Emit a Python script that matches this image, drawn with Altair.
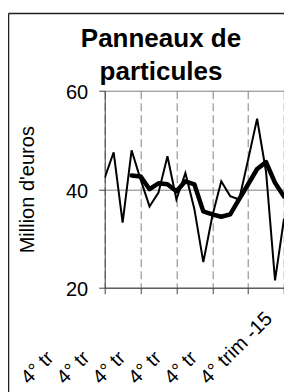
import altair as alt
import pandas as pd

# quarterly index (0 = 4° trim -10 ... 20 = 4° trim -15)
quarters = list(range(21))
raw_values = [42.3, 47.5, 33.2, 47.9, 42.0, 36.5, 39.3, 46.7, 37.9, 43.3, 36.0,
              25.2, 34.5, 41.6, 38.6, 37.9, 46.0, 54.3, 43.5, 21.5, 34.0]
ma_quarters = list(range(3, 21))
ma_values = [42.8, 42.6, 40.0, 41.2, 41.0, 39.6, 41.6, 41.0, 35.5, 34.9, 34.4,
             34.9, 38.0, 41.0, 44.1, 45.5, 41.3, 38.5]
tick_quarters = [0, 4, 8, 12, 16, 20]
tick_labels = ["4° tr", "4° tr", "4° tr", "4° tr", "4° tr", "4° trim -15"]
y_ticks = [20, 40, 60]
title_lines = ["Panneaux de", "particules"]
y_title = "Million d'euros"

FONT = "Liberation Sans"

raw_df = pd.DataFrame({"q": quarters, "v": raw_values})
ma_df = pd.DataFrame({"q": ma_quarters, "v": ma_values})

label_expr = "[" + ",".join("'" + t + "'" for t in tick_labels) + "][round(datum.value/4)]"

x_scale = alt.Scale(domain=[0, 20], nice=False, zero=False)
y_scale = alt.Scale(domain=[20, 60], nice=False, zero=False)

x_axis = alt.Axis(values=tick_quarters, tickCount=12, grid=True, gridDash=[8, 4],
                  gridColor="#808080", gridWidth=1, domainColor="#404040",
                  tickColor="#404040", tickSize=6,
                  labelAngle=315, labelAlign="left", labelBaseline="alphabetic",
                  labelPadding=91, labelOffset=-76.5, labelFontSize=20, labelFont=FONT,
                  labelColor="black", labelOverlap=False, labelFlush=False,
                  labelExpr=label_expr, title=None)
y_axis = alt.Axis(values=y_ticks, tickCount=5, grid=True, gridColor="#808080", gridWidth=1,
                  domainColor="#404040", tickColor="#404040", tickSize=6,
                  labelFontSize=20, labelFont=FONT, labelColor="black",
                  labelPadding=11, labelOffset=2, labelFlush=False,
                  title=y_title, titleFontSize=20, titleFont=FONT, titleFontWeight="normal",
                  titleColor="black", titleAngle=270, titleX=-71, titleY=98.5,
                  titleAlign="center", titleBaseline="alphabetic")

thin = alt.Chart(raw_df).mark_line(color="black", strokeWidth=2, clip=True).encode(
    x=alt.X("q:Q", scale=x_scale, axis=x_axis),
    y=alt.Y("v:Q", scale=y_scale, axis=y_axis),
)
thick = alt.Chart(ma_df).mark_line(color="black", strokeWidth=4.5, strokeJoin="round",
                                   strokeCap="round", clip=True).encode(
    x=alt.X("q:Q", scale=x_scale),
    y=alt.Y("v:Q", scale=y_scale),
)

frame_left = alt.Chart(pd.DataFrame({"a": [0]})).mark_rule(color="#202020", strokeWidth=1.5).encode(
    x=alt.value(-96.2), y=alt.value(-77.2), y2=alt.value(400))
frame_top = alt.Chart(pd.DataFrame({"a": [0]})).mark_rule(color="#202020", strokeWidth=1.5).encode(
    x=alt.value(-96.2), x2=alt.value(300), y=alt.value(-77.2))

title1 = alt.Chart(pd.DataFrame({"t": [title_lines[0]]})).mark_text(
    fontSize=26, fontWeight="bold", font=FONT, color="black", align="center",
    baseline="alphabetic").encode(text="t:N", x=alt.value(56.3), y=alt.value(-44))
title2 = alt.Chart(pd.DataFrame({"t": [title_lines[1]]})).mark_text(
    fontSize=26, fontWeight="bold", font=FONT, color="black", align="center",
    baseline="alphabetic").encode(text="t:N", x=alt.value(56.3), y=alt.value(-10.7))

chart = alt.layer(thin, thick, frame_left, frame_top, title1, title2).properties(
    width=179.3, height=197,
    padding={"left": 96.7, "top": 82.7, "right": 0, "bottom": 104.3},
    autosize=alt.AutoSizeParams(type="none"),
).configure_view(strokeWidth=0)

chart.save("out.html", embed_options={"renderer": "svg", "actions": False})
